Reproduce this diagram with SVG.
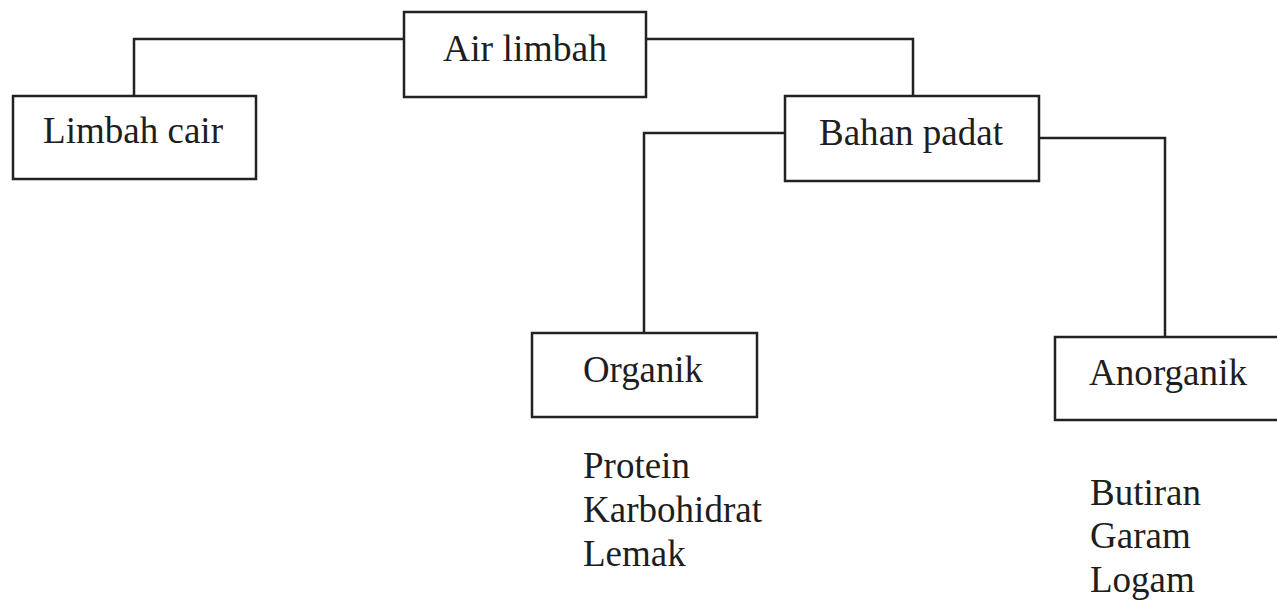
<svg xmlns="http://www.w3.org/2000/svg" width="1277" height="601" viewBox="0 0 1277 601">
<style>
.box{fill:#fff;stroke:#222;stroke-width:2.5}
.lbl{font-family:"Liberation Serif","Times New Roman",serif;font-size:37px;fill:#1e1e1e}
.conn{fill:none;stroke:#222;stroke-width:2.5}
</style>
<rect width="1277" height="601" fill="#fff"/>
<g id="connectors">
<polyline class="conn" points="404,39 134,39 134,96"/>
<polyline class="conn" points="646,39 913,39 913,96"/>
<polyline class="conn" points="785,133 644,133 644,333"/>
<polyline class="conn" points="1039,138 1165,138 1165,337"/>
</g>
<g id="air-limbah">
<rect class="box" x="404" y="12" width="242" height="85"/>
<text class="lbl" x="443" y="61" textLength="164" lengthAdjust="spacingAndGlyphs">Air limbah</text>
</g>
<g id="limbah-cair">
<rect class="box" x="13" y="96" width="243" height="83"/>
<text class="lbl" x="43" y="143" textLength="180" lengthAdjust="spacingAndGlyphs">Limbah cair</text>
</g>
<g id="bahan-padat">
<rect class="box" x="785" y="96" width="254" height="85"/>
<text class="lbl" x="819" y="145" textLength="184" lengthAdjust="spacingAndGlyphs">Bahan padat</text>
</g>
<g id="organik">
<rect class="box" x="532" y="333" width="225" height="84"/>
<text class="lbl" x="583" y="382" textLength="120" lengthAdjust="spacingAndGlyphs">Organik</text>
</g>
<g id="organik-list">
<text class="lbl" x="583" y="478">Protein</text>
<text class="lbl" x="583" y="522" textLength="179" lengthAdjust="spacingAndGlyphs">Karbohidrat</text>
<text class="lbl" x="583" y="566">Lemak</text>
</g>
<g id="anorganik">
<rect class="box" x="1055" y="337" width="240" height="83"/>
<text class="lbl" x="1089" y="385" textLength="158" lengthAdjust="spacingAndGlyphs">Anorganik</text>
</g>
<g id="anorganik-list">
<text class="lbl" x="1090" y="505">Butiran</text>
<text class="lbl" x="1090" y="548">Garam</text>
<text class="lbl" x="1090" y="592">Logam</text>
</g>
</svg>
